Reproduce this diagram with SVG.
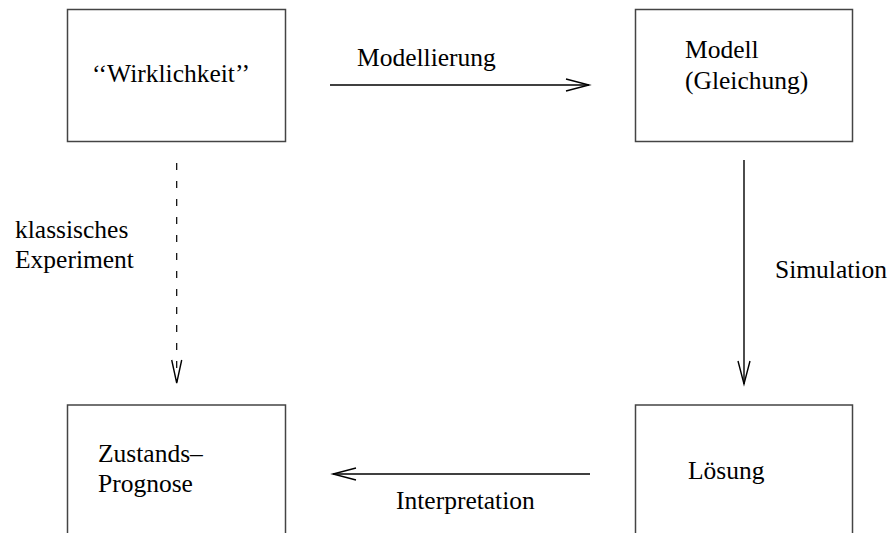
<svg xmlns="http://www.w3.org/2000/svg" width="893" height="533" viewBox="0 0 893 533">
<style>
.box{fill:#fff;stroke:#444;stroke-width:1.5}
.t{font-family:"Liberation Serif","Times New Roman",serif;font-size:25.5px;fill:#000}
.ln{stroke:#000;stroke-width:1.4;fill:none}
.dash{stroke:#000;stroke-width:1.2;fill:none;stroke-dasharray:7 11}
.hd{stroke:#000;stroke-width:1.4;fill:none}
</style>
<rect width="893" height="533" fill="#fff"/>
<g id="connectors">
<line class="ln" x1="330" y1="85" x2="589" y2="85"/>
<polyline class="hd" points="566,79 589,85 566,91"/>
<line class="ln" x1="744" y1="160" x2="744" y2="384"/>
<polyline class="hd" points="738,361 744,384 750,361"/>
<line class="ln" x1="590" y1="474" x2="333" y2="474"/>
<polyline class="hd" points="356,468 333,474 356,480"/>
<line class="dash" x1="176.7" y1="163" x2="176.7" y2="382"/>
<polyline class="hd" points="171.7,360 176.7,383 181.7,360"/>
<text class="t" x="357" y="66">Modellierung</text>
<text class="t" x="775" y="278">Simulation</text>
<text class="t" x="396" y="509">Interpretation</text>
<text class="t" x="15" y="238">klassisches</text>
<text class="t" x="15" y="268">Experiment</text>
</g>
<g id="wirklichkeit">
<rect class="box" x="67.5" y="9.5" width="218" height="132"/>
<text class="t" x="92" y="82">‘‘Wirklichkeit’’</text>
</g>
<g id="modell">
<rect class="box" x="635.5" y="9.5" width="217" height="132"/>
<text class="t" x="685" y="58">Modell</text>
<text class="t" x="685" y="89">(Gleichung)</text>
</g>
<g id="prognose">
<rect class="box" x="67.5" y="405" width="218" height="140"/>
<text class="t" x="98" y="462">Zustands–</text>
<text class="t" x="98" y="492">Prognose</text>
</g>
<g id="loesung">
<rect class="box" x="635.5" y="405" width="217" height="140"/>
<text class="t" x="688" y="479">Lösung</text>
</g>
</svg>
